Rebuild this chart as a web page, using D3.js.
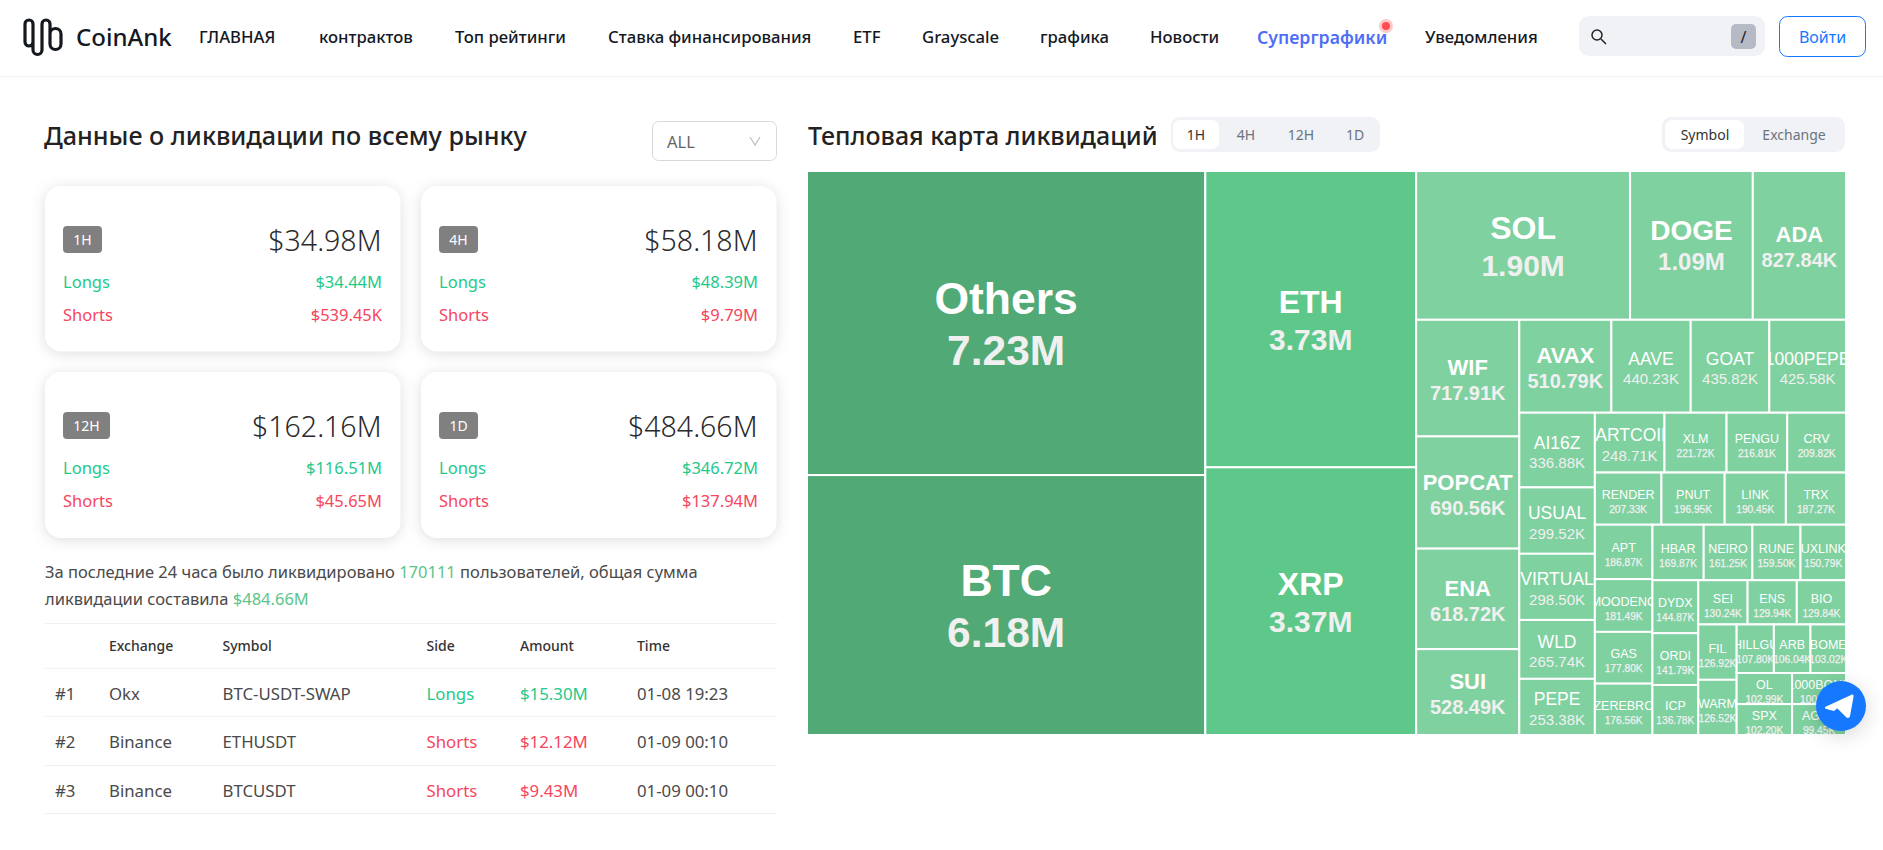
<!DOCTYPE html>
<html lang="ru"><head><meta charset="utf-8"><title>CoinAnk</title>
<script src="https://cdn.jsdelivr.net/npm/d3@7"></script>
<style>
html,body{margin:0;padding:0;background:#fff;overflow:hidden}
svg{display:block}
svg text{font-family:"Noto Sans","Open Sans",sans-serif;}
svg text.tm{font-family:"Liberation Sans",Arial,sans-serif;}
</style></head><body>
<svg id="page" width="1883" height="850"></svg>
<script>
// ---------- data ----------
const navLabels=["ГЛАВНАЯ","контрактов","Топ рейтинги","Ставка финансирования","ETF","Grayscale","графика","Новости","Суперграфики","Уведомления"];
const navLefts=[199,319,455,608,853,922,1040,1150,1257,1425];
const cardLabels=["1H","4H","12H","1D"];
const cardTotals=["$34.98M","$58.18M","$162.16M","$484.66M"];
const cardLongs=["$34.44M","$48.39M","$116.51M","$346.72M"];
const cardShorts=["$539.45K","$9.79M","$45.65M","$137.94M"];
const tableHeaders=["Exchange","Symbol","Side","Amount","Time"];
const tableRanks=["#1","#2","#3"];
const tableExchanges=["Okx","Binance","Binance"];
const tableSymbols=["BTC-USDT-SWAP","ETHUSDT","BTCUSDT"];
const tableSides=["Longs","Shorts","Shorts"];
const tableAmounts=["$15.30M","$12.12M","$9.43M"];
const tableTimes=["01-08 19:23","01-09 00:10","01-09 00:10"];
const periodTabs=["1H","4H","12H","1D"];
const viewTabs=["Symbol","Exchange"];
const symbols=["Others","BTC","ETH","XRP","SOL","DOGE","ADA","WIF","POPCAT","ENA","SUI","AVAX","AAVE","GOAT","1000PEPE","AI16Z","USUAL","VIRTUAL","WLD","PEPE","FARTCOIN","XLM","PENGU","CRV","RENDER","PNUT","LINK","TRX","APT","MOODENG","GAS","ZEREBRO","HBAR","NEIRO","RUNE","UXLINK","DYDX","ORDI","ICP","SEI","ENS","BIO","FIL","SWARMS","CHILLGUY","ARB","BOME","OL","SPX","1000BONK","AGLD"];
const amounts=[7230000,6180000,3730000,3370000,1900000,1090000,827840,717910,690560,618720,528490,510790,440230,435820,425580,336880,299520,298500,265740,253380,248710,221720,216810,209820,207330,196950,190450,187270,186870,181490,177800,176560,169870,161250,159500,150790,144870,141790,136780,130240,129940,129840,126920,126520,107800,106040,103020,102990,102200,100120,99450];

// ---------- helpers ----------
const svg=d3.select("#page");
const GREEN="#1fc98b",RED="#f6465d",INK="#222",BODY="#4a4a4a",TAB="#f0f2f6";
function label(g,x,y,t,o={}){
  return g.append("text").attr("x",x).attr("y",y).attr("dominant-baseline","central")
    .attr("text-anchor",o.anchor||"start").attr("font-size",o.size||16)
    .attr("font-weight",o.weight||400).attr("fill",o.fill||BODY).text(t);
}
function box(g,x0,y0,x1,y1,o={}){
  return g.append("rect").attr("x",x0).attr("y",y0).attr("width",x1-x0).attr("height",y1-y0)
    .attr("rx",o.r||0).attr("fill",o.fill||"#fff").attr("stroke",o.stroke||"none");
}
// ---------- nav ----------
const nav=svg.append("g");
nav.append("line").attr("x1",0).attr("x2",1883).attr("y1",76.5).attr("y2",76.5).attr("stroke","#f1f1f8");
nav.append("path").attr("fill","none").attr("stroke","#14181f").attr("stroke-width",3.2).attr("stroke-linecap","round")
  .attr("d","M33 27V24a4 4 0 0 0-8 0V42a4 4 0 0 0 8 0V27V50a4.5 4.5 0 0 0 9 0V24a4 4 0 0 1 8 0V44a5.5 5.5 0 0 0 11 0V34a5.5 5.5 0 0 0-11 0");
label(nav,76,36,"CoinAnk",{size:24,fill:"#14181f",weight:500});
navLabels.forEach((t,i)=>label(nav,navLefts[i],36.5,t,{size:i===8?17.7:16.7,fill:i===8?"#4f6ef7":"#14181f",weight:i===8?600:500}));
nav.append("circle").attr("cx",1386).attr("cy",26).attr("r",7).attr("fill","#ffc9c9");
nav.append("circle").attr("cx",1386).attr("cy",26).attr("r",4).attr("fill","#ff4d4f");
box(nav,1579,16,1765,56,{r:10,fill:TAB});
nav.append("circle").attr("cx",1597).attr("cy",35).attr("r",5).attr("fill","none").attr("stroke","#222").attr("stroke-width",1.5);
nav.append("line").attr("x1",1601).attr("y1",39).attr("x2",1606).attr("y2",44).attr("stroke","#222").attr("stroke-width",1.5);
box(nav,1731,24,1756,49,{r:5,fill:"#b6bac5"});
label(nav,1743.5,36.5,"/",{anchor:"middle",size:16,fill:"#222"});
box(nav,1779.5,16.5,1865.5,56.5,{r:8,fill:"#fff",stroke:"#1677ff"});
label(nav,1822.5,37,"Войти",{anchor:"middle",size:16,fill:"#1677ff"});

// ---------- left panel ----------
const left=svg.append("g");
label(left,44,134.5,"Данные о ликвидации по всему рынку",{size:25.2,weight:500,fill:INK});
box(left,652.5,121.5,776.5,160.5,{r:6,fill:"#fff",stroke:"#d9d9d9"});
label(left,667,141.5,"ALL",{size:16.5,fill:"#666"});
left.append("path").attr("fill","none").attr("stroke","#bfbfbf").attr("stroke-width",1.2).attr("d","M750 137l5 8l5-8");
const cardX=[[45,400.5],[421,776.5]],cardY=[[186,351.5],[372,538]];
const cards=svg.append("g");
cardLabels.forEach((c,i)=>{
  const [x0,x1]=cardX[i%2],[y0,y1]=cardY[i>>1];
  const g=cards.append("g");
  box(g,x0,y0,x1,y1,{r:16}).style("filter","drop-shadow(0 2px 7px rgba(0,0,0,.13))");
  const dy=y0-186;
  box(g,x0+18,y0+40,x0+(c.length>2?65:57),y0+67,{r:4,fill:"#808080"});
  label(g,x0+18+(c.length>2?23.5:19.5),y0+53.5,c,{anchor:"middle",size:14,fill:"#fff"});
  label(g,x1-19,240+dy,cardTotals[i],{anchor:"end",size:28.5,fill:"#2b2b2b",weight:300});
  label(g,x0+18,281+dy,"Longs",{size:16.5,fill:GREEN});
  label(g,x1-18.5,281+dy,cardLongs[i],{anchor:"end",size:16.5,fill:GREEN});
  label(g,x0+18,314+dy,"Shorts",{size:16.5,fill:RED});
  label(g,x1-18.5,314+dy,cardShorts[i],{anchor:"end",size:16.5,fill:RED});
});
const para=svg.append("g");
const p1=label(para,45,571,"За последние 24 часа было ликвидировано ",{size:16.5});
p1.append("tspan").attr("fill","#5cc58a").text("170111");
p1.append("tspan").text(" пользователей, общая сумма");
const p2=label(para,45,598,"ликвидации составила ",{size:16.5});
p2.append("tspan").attr("fill","#5cc58a").text("$484.66M");

// ---------- table ----------
const tbl=svg.append("g");
const colX=[109,222.5,426.5,520,637],lineY=[623,668,716,765,813],rowY=[693,741,790];
tbl.selectAll("line").data(lineY).join("line").attr("x1",45).attr("x2",777).attr("y1",d=>d+.5).attr("y2",d=>d+.5).attr("stroke","#f0f0f0");
tableHeaders.forEach((h,i)=>label(tbl,colX[i],645,h,{size:14,weight:500,fill:"#333"}));
tableRanks.forEach((r,i)=>{
  const c=tableSides[i]==="Longs"?GREEN:RED;
  label(tbl,55,rowY[i],r,{size:16.8});
  label(tbl,colX[0],rowY[i],tableExchanges[i],{size:16.8});
  label(tbl,colX[1],rowY[i],tableSymbols[i],{size:16.8});
  label(tbl,colX[2],rowY[i],tableSides[i],{size:16.8,fill:c});
  label(tbl,colX[3],rowY[i],tableAmounts[i],{size:16.8,fill:c});
  label(tbl,colX[4],rowY[i],tableTimes[i],{size:16.8});
});

// ---------- right header ----------
const rh=svg.append("g");
label(rh,808,134.5,"Тепловая карта ликвидаций",{size:25,weight:500,fill:INK});
box(rh,1171,117,1380,152,{r:9,fill:TAB});
box(rh,1173,120,1219,149,{r:7,fill:"#fff"});
[1196,1246,1301,1355].forEach((x,i)=>label(rh,x,134,periodTabs[i],{anchor:"middle",size:14,fill:i?"#6b7280":"#333"}));
box(rh,1662,117,1845,152,{r:9,fill:TAB});
box(rh,1665,120,1744,149,{r:7,fill:"#fff"});
[1705,1794].forEach((x,i)=>label(rh,x,134,viewTabs[i],{anchor:"middle",size:14,fill:i?"#6b7280":"#333"}));

// ---------- treemap ----------
const tmX=807,tmY=171,tmW=1039,tmH=564;
const root=d3.hierarchy({children:symbols.map((name,i)=>({name,value:amounts[i]}))})
  .sum(d=>d.value||0).sort((a,b)=>b.value-a.value);
d3.treemap().tile(d3.treemapSquarify.ratio(1)).size([tmW,tmH]).round(false)(root);
const colorScale=d3.scaleThreshold().domain([2e6,5e6]).range(["#80d1a0","#5ec88a","#51a975"]);
// label styling tiers by liquidation amount
const tiers=[225e3,5e5,1e6,1.5e6,5e6];
const nameSize=d3.scaleThreshold().domain(tiers).range([12.5,17.5,22,28,32,44.5]);
const valueSize=d3.scaleThreshold().domain(tiers).range([10.2,15,20,24,30,42.5]);
const nameDy=d3.scaleThreshold().domain(tiers).range([-3.5,-7.5,-10.5,-14.5,-17.5,-24.5]);
const valueDy=d3.scaleThreshold().domain(tiers).range([11,12.5,15,16.5,20,27.5]);
const fmt=v=>v>=1e6?(v/1e6).toFixed(2)+"M":(v/1e3).toFixed(2)+"K";
const tm=svg.append("g").attr("transform",`translate(${tmX},${tmY})`);
const defs=svg.append("defs");
const cell=tm.selectAll("g").data(root.leaves()).join("g").attr("transform",d=>`translate(${d.x0},${d.y0})`);
defs.selectAll("clipPath").data(root.leaves()).join("clipPath").attr("id",(d,i)=>"c"+i)
  .append("rect").attr("width",d=>d.x1-d.x0).attr("height",d=>d.y1-d.y0);
cell.append("rect").attr("width",d=>d.x1-d.x0).attr("height",d=>d.y1-d.y0)
  .attr("fill",d=>colorScale(d.value)).attr("stroke","#fff").attr("stroke-width",2);
const lab=cell.append("g").attr("clip-path",(d,i)=>`url(#c${i})`);
lab.append("text").attr("class","tm").attr("text-anchor","middle").attr("dominant-baseline","central")
  .attr("x",d=>(d.x1-d.x0)/2).attr("y",d=>(d.y1-d.y0)/2+nameDy(d.value))
  .attr("font-size",d=>nameSize(d.value)).attr("font-weight",d=>d.value>=5e5?700:400).attr("fill","#fff").text(d=>d.data.name);
lab.append("text").attr("class","tm").attr("text-anchor","middle").attr("dominant-baseline","central")
  .attr("x",d=>(d.x1-d.x0)/2).attr("y",d=>(d.y1-d.y0)/2+valueDy(d.value))
  .attr("font-size",d=>valueSize(d.value)).attr("font-weight",d=>d.value>=5e5?700:400).attr("fill","#f0f0f0")
  .attr("stroke","#f0f0f0").attr("stroke-width",d=>d.value<225e3?0.25:0).text(d=>fmt(d.value));

// ---------- telegram button ----------
const tg=svg.append("g").attr("transform","translate(1841,706)");
tg.append("circle").attr("r",25).attr("fill","#1677ff").style("filter","drop-shadow(0 4px 10px rgba(0,0,0,.16))");
tg.append("path").attr("fill","#fff").attr("d","M-16 1L10 -11C12 -12 13 -11 12.5 -9L9 10C8.5 12 7 12.5 5.5 11.5L-4 2L7 -6L-7 5C-9 4.5 -13 3.5 -16 2.5Z");
</script></body></html>
